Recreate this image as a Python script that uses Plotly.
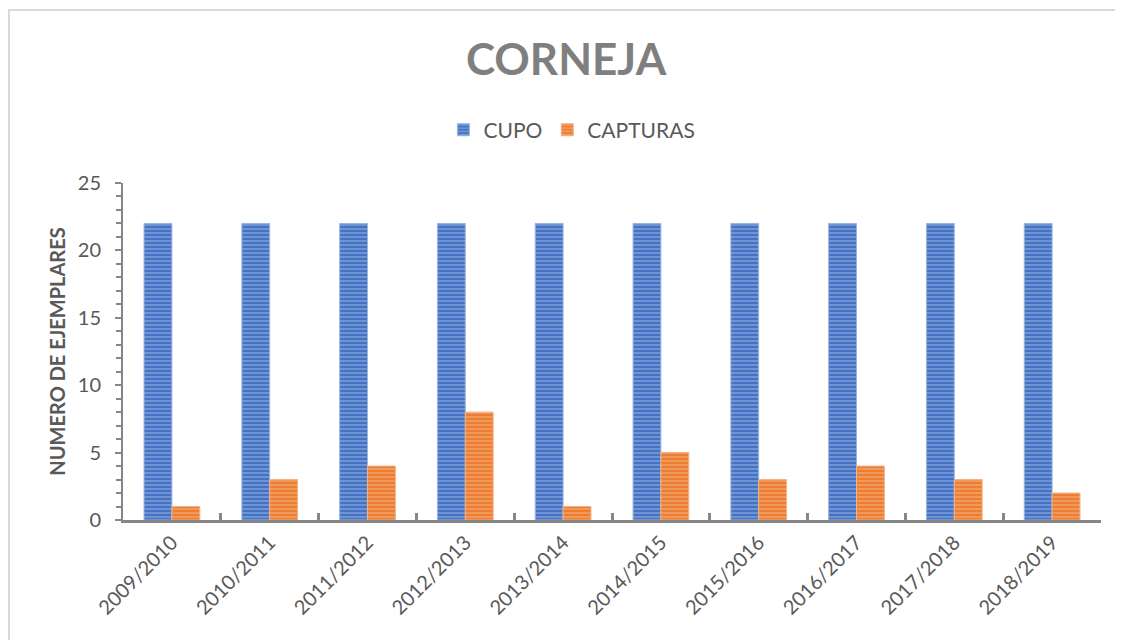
import plotly.graph_objects as go

temporadas = ["2009/2010", "2010/2011", "2011/2012", "2012/2013", "2013/2014",
              "2014/2015", "2015/2016", "2016/2017", "2017/2018", "2018/2019"]
cupo = [22, 22, 22, 22, 22, 22, 22, 22, 22, 22]
capturas = [1, 3, 4, 8, 1, 5, 3, 4, 3, 2]

FONT = "Lato"
TXT = "#595959"
AX = "#868686"

fig = go.Figure()
fig.add_trace(go.Bar(
    x=temporadas, y=cupo, name="CUPO",
    marker=dict(color="#4472C4", line=dict(color="#9db4e0", width=1),
                pattern=dict(shape="-", fgcolor="#a4bbe6", bgcolor="#4472C4",
                             size=4, solidity=0.45)),
))
fig.add_trace(go.Bar(
    x=temporadas, y=capturas, name="CAPTURAS",
    marker=dict(color="#ED7D31", line=dict(color="#f4b183", width=1),
                pattern=dict(shape="-", fgcolor="#f6b98e", bgcolor="#ED7D31",
                             size=4, solidity=0.45)),
))

fig.update_layout(
    width=1123, height=640,
    margin=dict(l=115, r=30, t=175, b=128),
    paper_bgcolor="white", plot_bgcolor="white",
    font=dict(family=FONT, color=TXT, size=19),
    barmode="group", bargap=0.43, bargroupgap=0,
    title=dict(text="CORNEJA", x=0.497, xanchor="center", y=0.919, yanchor="middle",
               xref="container", yref="container",
               font=dict(family=FONT, size=44, color="#7f7f7f", weight="bold")),
    legend=dict(orientation="h", x=0.459, xanchor="center", y=1.157, yanchor="middle",
                font=dict(family=FONT, size=21, color=TXT),
                itemwidth=30, traceorder="normal"),
    showlegend=True,
    yaxis2=dict(overlaying="y", side="left", range=[0, 25], dtick=5,
                ticks="inside", ticklen=6, tickwidth=2, tickcolor=AX,
                showticklabels=False, showline=False, showgrid=False, zeroline=False),
)
fig.update_xaxes(
    showline=True, linecolor=AX, linewidth=3,
    ticks="inside", tickson="boundaries", ticklen=7, tickwidth=3, tickcolor=AX,
    tickangle=-45, tickfont=dict(family=FONT, size=20, color=TXT),
    showgrid=False, zeroline=False,
)
fig.update_layout(yaxis=dict(
    range=[0, 25], dtick=5, showline=True, linecolor=AX, linewidth=2,
    ticks="outside", ticklen=6, tickwidth=2, tickcolor=AX,
    minor=dict(ticks="outside", dtick=1, ticklen=5, tickwidth=2, tickcolor=AX),
    showgrid=False, zeroline=False,
    ticklabelstandoff=10,
    tickfont=dict(family=FONT, size=20, color=TXT),
    title=dict(text="NUMERO DE EJEMPLARES", standoff=7,
               font=dict(family=FONT, size=20, color=TXT, weight="bold")),
))

# chart frame
fig.add_shape(type="rect", xref="paper", yref="paper",
              x0=(1 - 115) / 978, x1=(1160 - 115) / 978,
              y0=(512 - 700) / 337, y1=(512 - 2) / 337,
              line=dict(color="#d9d9d9", width=2), fillcolor="rgba(0,0,0,0)", layer="below")

fig.write_html("out.html")
